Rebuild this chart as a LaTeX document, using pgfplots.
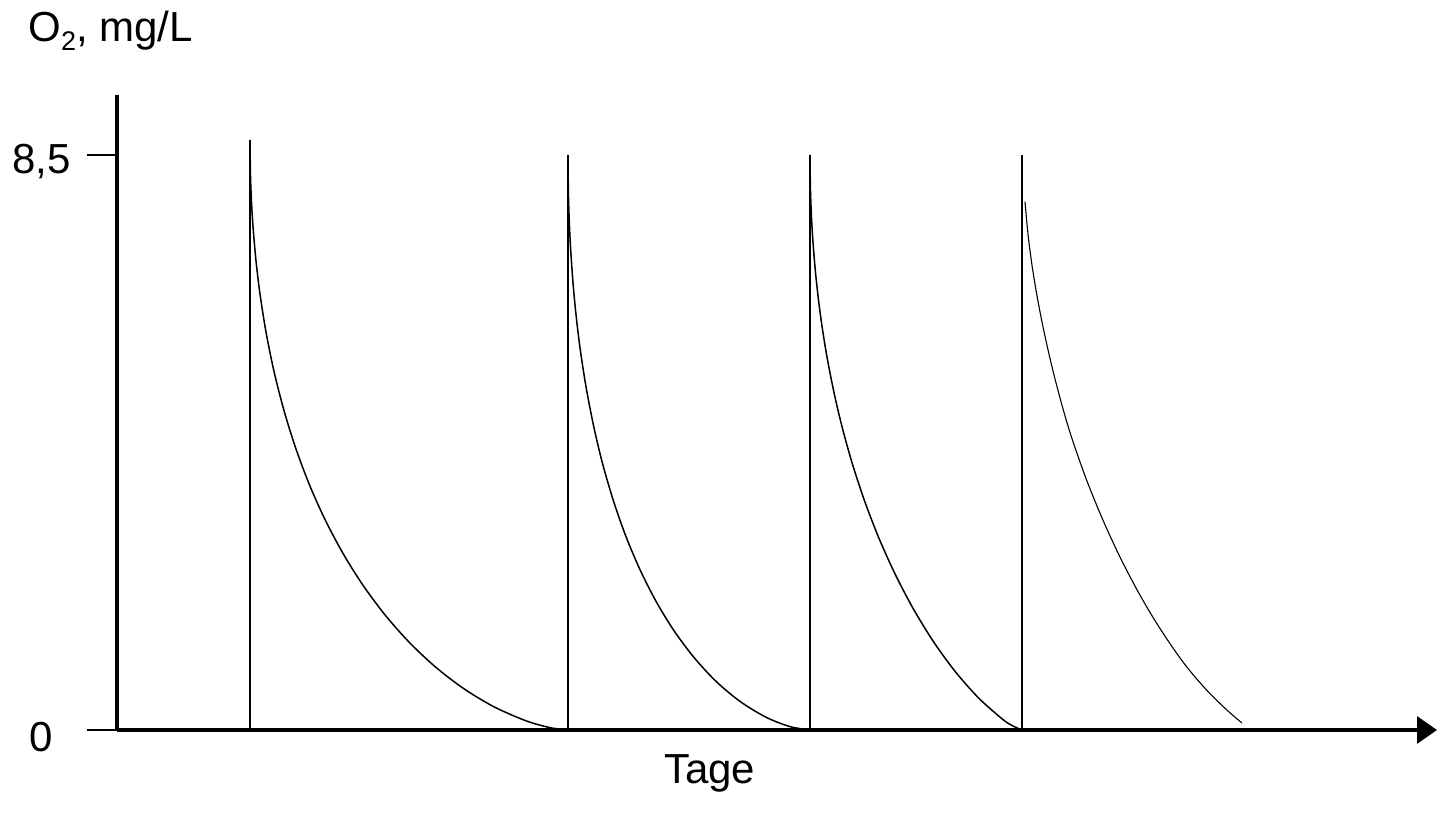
\documentclass[border=0pt]{standalone}
\usepackage{fontspec}
\setmainfont{Liberation Sans}
\usepackage{pgfplots}
\pgfplotsset{compat=1.18}
\usetikzlibrary{arrows.meta}
\begin{document}
\begin{tikzpicture}
\begin{axis}[
  scale only axis, width=660pt, height=317.5pt,
  xmin=0, xmax=1320, ymin=0, ymax=9.387,
  axis lines=left,
  x axis line style={line width=1.7pt, -{Triangle[length=10pt,width=13.5pt]}},
  y axis line style={line width=1.6pt, -},
  xtick=\empty,
  ytick={0,8.5}, yticklabels={0,{8,5}},
  /pgf/number format/assume math mode=true,
  tick style={black, line width=0.65pt},
  major tick length=15pt,
  tick align=outside,
  yticklabel style={font=\fontsize{21}{25}\selectfont, text width=30pt, align=center, anchor=east, inner sep=0pt, xshift=-7.5pt, yshift=-3.5pt},
  xlabel={Tage},
  xlabel style={at={(axis description cs:0.449,-0.085)}, anchor=base, inner sep=0pt, font=\fontsize{21}{25}\selectfont},
  ylabel={O\raisebox{-0.2em}{\fontsize{13.5}{15}\selectfont 2}, mg/L},
  ylabel style={rotate=-90, at={(axis description cs:-0.0674,1.0835)}, anchor=base west, inner sep=0pt, font=\fontsize{21}{25}\selectfont},
  clip=false,
]
% vertical jumps (aeration events)
\addplot[black, line width=0.8pt] coordinates {(133,0) (133,8.722)};
\addplot[black, line width=0.8pt] coordinates {(451,0) (451,8.5)};
\addplot[black, line width=0.8pt] coordinates {(693,0) (693,8.5)};
\addplot[black, line width=0.8pt] coordinates {(905,0) (905,8.5)};
% decay curves
\addplot[black, line width=0.75pt, smooth, tension=0.5] coordinates {
(133,8.722) (133.5,8.191) (134.5,7.811) (136,7.445) (139,6.936) (143,6.445)
(149,5.883) (157,5.301) (167,4.722) (179,4.154) (193,3.605) (209,3.082)
(227,2.585) (247,2.118) (269,1.684) (293,1.285) (319,0.925) (347,0.609)
(377,0.343) (409,0.136) (433,0.035) (451,0)};
\addplot[black, line width=0.75pt, smooth, tension=0.5] coordinates {
(451,8.500) (451.4,7.947) (452.2,7.551) (453.5,7.144) (456,6.611) (459,6.141)
(463,5.651) (469,5.075) (477,4.467) (486,3.914) (497,3.362) (509,2.859)
(523,2.370) (539,1.903) (557,1.468) (577,1.072) (599,0.720) (623,0.423)
(649,0.189) (673,0.050) (693,0)};
\addplot[black, line width=0.75pt, smooth, tension=0.5] coordinates {
(693,8.500) (693.4,8.023) (694.2,7.678) (695.5,7.320) (698,6.844) (701,6.419)
(705,5.971) (710,5.514) (717,4.988) (725,4.485) (735,3.953) (747,3.410)
(761,2.869) (777,2.339) (795,1.826) (815,1.339) (837,0.887) (861,0.482)
(885,0.166) (895,0.066) (905,0)};
\addplot[black, line width=0.55pt, smooth, tension=0.5] coordinates {
(908,7.810) (911,7.330) (915,6.870) (920,6.420) (926,5.960) (934.7,5.386)
(944.7,4.816) (954.7,4.321) (969.7,3.691) (986,3.101) (1003,2.557) (1020,2.073)
(1036,1.665) (1053,1.277) (1070,0.928) (1090,0.584) (1110,0.294) (1125,0.103)};
\end{axis}
\pgfresetboundingbox
\path (-58.5pt,-45.5pt) rectangle (660pt,365pt);
\end{tikzpicture}
\end{document}
